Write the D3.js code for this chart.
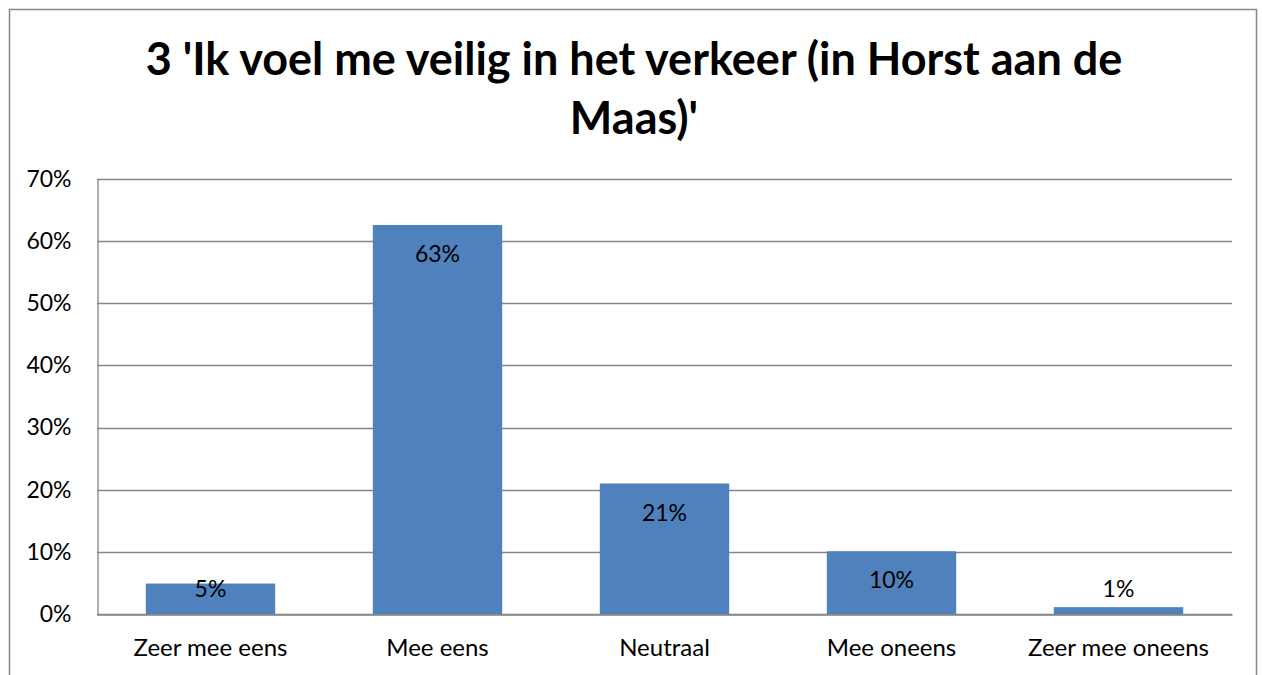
<!DOCTYPE html>
<html>
<head>
<meta charset="utf-8">
<script src="https://cdn.jsdelivr.net/npm/d3@7"></script>
<style>
  body { margin: 0; background: #ffffff; }
  svg { display: block; font-family: Lato, "Open Sans", sans-serif; }
</style>
</head>
<body>
<script>
// chart data
const titleLines = ["3 'Ik voel me veilig in het verkeer (in Horst aan de", "Maas)'"];
const categories = ["Zeer mee eens", "Mee eens", "Neutraal", "Mee oneens", "Zeer mee oneens"];
const values = [4.9, 62.6, 21.0, 10.1, 1.1];
const yTicks = [0, 10, 20, 30, 40, 50, 60, 70];

window.onload = function() {
    main();
};

function main() {
    let w = 1262, h = 675;
    let plot = {left: 97, right: 1232, top: 179, bottom: 614};

    let svg = d3.select("body")
                .append("svg")
                .attr("width", w)
                .attr("height", h);

    // outer chart border
    svg.append("rect")
       .attr("x", 9.5)
       .attr("y", 9.5)
       .attr("width", 1247)
       .attr("height", 700)
       .attr("fill", "none")
       .attr("stroke", "#868686")
       .attr("stroke-width", 1.5);

    // title
    svg.append("g")
       .selectAll("text")
       .data(titleLines)
       .enter()
       .append("text")
       .attr("x", 634)
       .attr("y", (d, i) => 75 + i * 59)
       .attr("text-anchor", "middle")
       .style("font-size", "45px")
       .style("font-weight", "bold")
       .style("fill", "#000")
       .text(d => d);

    let x = d3.scaleBand()
              .domain(categories)
              .range([plot.left, plot.right])
              .paddingInner(0.43)
              .paddingOuter(0.215);

    let y = d3.scaleLinear()
              .domain([0, 70])
              .range([plot.bottom, plot.top]);

    // gridlines
    svg.append("g")
       .selectAll("line")
       .data(yTicks)
       .enter()
       .append("line")
       .attr("x1", plot.left)
       .attr("x2", plot.right)
       .attr("y1", d => Math.round(y(d)) + 0.5)
       .attr("y2", d => Math.round(y(d)) + 0.5)
       .attr("stroke", "#868686")
       .attr("stroke-width", 1.3);

    // y axis
    let yAxis = d3.axisLeft(y)
                  .tickValues(yTicks)
                  .tickSize(0)
                  .tickPadding(26)
                  .tickFormat(d => d + "%");

    let gy = svg.append("g")
                .attr("transform", "translate(" + (plot.left + 0.5) + ",0)")
                .call(yAxis);
    gy.select(".domain").attr("stroke", "#868686").attr("stroke-width", 1.3);
    gy.selectAll("text")
      .style("font-family", "Lato, 'Open Sans', sans-serif")
      .style("font-size", "23px")
      .style("fill", "#000");

    // bars
    svg.append("g")
       .selectAll("rect")
       .data(values)
       .enter()
       .append("rect")
       .attr("x", (d, i) => x(categories[i]))
       .attr("y", d => y(d))
       .attr("width", x.bandwidth())
       .attr("height", d => y(0) - y(d))
       .attr("fill", "#4F81BD");

    // data labels
    svg.append("g")
       .selectAll("text")
       .data(values)
       .enter()
       .append("text")
       .attr("x", (d, i) => x(categories[i]) + x.bandwidth() / 2)
       .attr("y", d => Math.min(y(d) + 29, y(0) - 25))
       .attr("dy", "0.35em")
       .attr("text-anchor", "middle")
       .style("font-size", "23px")
       .style("fill", "#000")
       .text(d => Math.round(d) + "%");

    // x axis
    let xAxis = d3.axisBottom(x)
                  .tickSize(0)
                  .tickPadding(24);

    let gx = svg.append("g")
                .attr("transform", "translate(0," + (plot.bottom + 0.5) + ")")
                .call(xAxis);
    gx.select(".domain").attr("stroke", "#868686").attr("stroke-width", 1.3);
    gx.selectAll("text")
      .style("font-family", "Lato, 'Open Sans', sans-serif")
      .style("font-size", "24px")
      .style("fill", "#000");
}
</script>
</body>
</html>
